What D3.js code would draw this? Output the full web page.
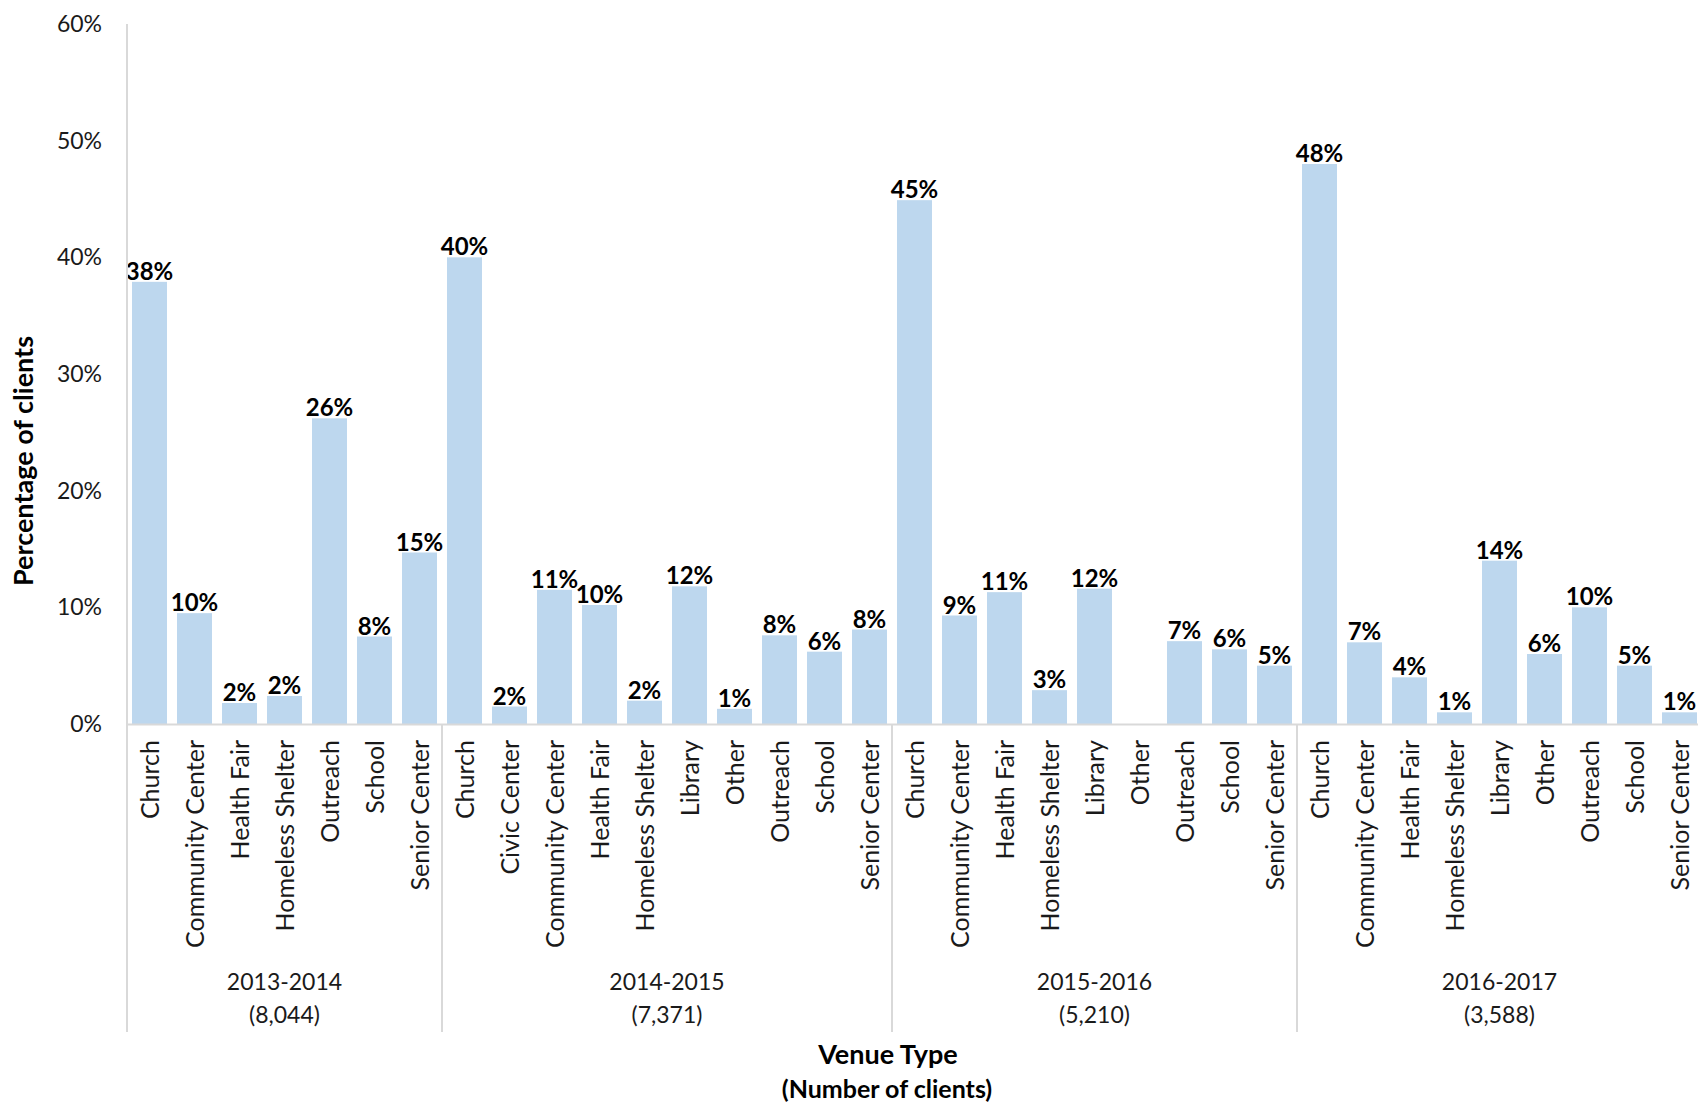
<!DOCTYPE html>
<html>
<head>
<meta charset="utf-8">
<script src="https://cdn.jsdelivr.net/npm/d3@7"></script>
<style>
  html, body { margin: 0; padding: 0; background: #fff; }
  svg { display: block; font-family: Lato, "Open Sans", sans-serif; }
</style>
</head>
<body>
<svg id="chart" width="1698" height="1104"></svg>
<script>
// ---- data ----
const groups = ["2013-2014", "2014-2015", "2015-2016", "2016-2017"];
const groupClients = ["(8,044)", "(7,371)", "(5,210)", "(3,588)"];

const venues2013 = ["Church", "Community Center", "Health Fair", "Homeless Shelter", "Outreach", "School", "Senior Center"];
const values2013 = [37.9, 9.5, 1.8, 2.4, 26.2, 7.5, 14.7];
const labels2013 = ["38%", "10%", "2%", "2%", "26%", "8%", "15%"];

const venues2014 = ["Church", "Civic Center", "Community Center", "Health Fair", "Homeless Shelter", "Library", "Other", "Outreach", "School", "Senior Center"];
const values2014 = [40.0, 1.5, 11.5, 10.2, 2.0, 11.8, 1.3, 7.6, 6.2, 8.1];
const labels2014 = ["40%", "2%", "11%", "10%", "2%", "12%", "1%", "8%", "6%", "8%"];

const venues2015 = ["Church", "Community Center", "Health Fair", "Homeless Shelter", "Library", "Other", "Outreach", "School", "Senior Center"];
const values2015 = [44.9, 9.3, 11.3, 2.9, 11.6, 0, 7.1, 6.4, 5.0];
const labels2015 = ["45%", "9%", "11%", "3%", "12%", "", "7%", "6%", "5%"];

const venues2016 = ["Church", "Community Center", "Health Fair", "Homeless Shelter", "Library", "Other", "Outreach", "School", "Senior Center"];
const values2016 = [48.0, 7.0, 4.0, 1.0, 14.0, 6.0, 10.0, 5.0, 1.0];
const labels2016 = ["48%", "7%", "4%", "1%", "14%", "6%", "10%", "5%", "1%"];

const yTicks = [0, 10, 20, 30, 40, 50, 60];

// ---- build flat table ----
const venueLists = [venues2013, venues2014, venues2015, venues2016];
const valueLists = [values2013, values2014, values2015, values2016];
const labelLists = [labels2013, labels2014, labels2015, labels2016];
const rows = [];
groups.forEach((g, gi) => {
  venueLists[gi].forEach((v, i) => {
    rows.push({ key: g + "|" + v, group: g, gi, venue: v, value: valueLists[gi][i], label: labelLists[gi][i] });
  });
});

// ---- layout ----
const svg = d3.select("#chart");
const plotLeft = 127, plotTop = 24, plotBottom = 724;
const step = 45;
const plotRight = plotLeft + rows.length * step;
const axisColor = "#d9d9d9";

const x = d3.scaleBand()
  .domain(rows.map(d => d.key))
  .range([plotLeft, plotRight])
  .paddingInner(0.222)
  .paddingOuter(0.111);

const y = d3.scaleLinear().domain([0, 60]).range([plotBottom, plotTop]);

// y axis tick labels
const yAxis = d3.axisLeft(y).tickValues(yTicks).tickFormat(d => d + "%").tickSize(0).tickPadding(25);
const yg = svg.append("g").attr("transform", `translate(${plotLeft},0)`).call(yAxis);
yg.select(".domain").remove();
yg.selectAll("text").attr("font-size", 23).attr("fill", "#1a1a1a").attr("font-family", "Lato, sans-serif");

// bars
svg.append("g").selectAll("rect").data(rows).join("rect")
  .attr("x", d => x(d.key))
  .attr("width", x.bandwidth())
  .attr("y", d => y(d.value))
  .attr("height", d => plotBottom - y(d.value))
  .attr("fill", "#BDD7EE");

// data labels
svg.append("g").selectAll("text").data(rows.filter(d => d.label)).join("text")
  .attr("x", d => x(d.key) + x.bandwidth() / 2)
  .attr("y", d => y(d.value) - 2)
  .attr("text-anchor", "middle")
  .attr("font-size", 24)
  .attr("font-weight", "bold")
  .attr("fill", "#000")
  .text(d => d.label);

// axes lines
svg.append("line").attr("x1", plotLeft).attr("x2", plotRight).attr("y1", plotBottom + 0.5).attr("y2", plotBottom + 0.5)
  .attr("stroke", axisColor).attr("stroke-width", 2);
svg.append("line").attr("x1", plotLeft).attr("x2", plotLeft).attr("y1", plotTop).attr("y2", 1032)
  .attr("stroke", axisColor).attr("stroke-width", 2);

// group separators
const groupStarts = groups.map(g => x(rows.find(r => r.group === g).key) - x.step() * x.paddingOuter());
groupStarts.slice(1).forEach(gx => {
  svg.append("line").attr("x1", gx).attr("x2", gx).attr("y1", plotBottom).attr("y2", 1032)
    .attr("stroke", axisColor).attr("stroke-width", 2);
});

// category labels
svg.append("g").selectAll("text").data(rows).join("text")
  .attr("transform", d => `translate(${x(d.key) + x.bandwidth() / 2},740) rotate(-90)`)
  .attr("text-anchor", "end")
  .attr("dy", "0.36em")
  .attr("font-size", 25)
  .attr("fill", "#1a1a1a")
  .text(d => d.venue);

// group labels
groups.forEach((g, gi) => {
  const gr = rows.filter(r => r.group === g);
  const cx = (x(gr[0].key) + x(gr[gr.length - 1].key) + x.bandwidth()) / 2;
  svg.append("text").attr("x", cx).attr("y", 982).attr("dy", "0.35em")
    .attr("text-anchor", "middle").attr("font-size", 23).attr("fill", "#1a1a1a").text(g);
  svg.append("text").attr("x", cx).attr("y", 1015).attr("dy", "0.35em")
    .attr("text-anchor", "middle").attr("font-size", 23).attr("fill", "#1a1a1a").text(groupClients[gi]);
});

// axis titles
svg.append("text")
  .attr("transform", "translate(24,461) rotate(-90)")
  .attr("text-anchor", "middle").attr("dy", "0.35em")
  .attr("font-size", 27).attr("font-weight", "bold").attr("fill", "#000")
  .text("Percentage of clients");
svg.append("text").attr("x", 888).attr("y", 1055).attr("dy", "0.35em")
  .attr("text-anchor", "middle").attr("font-size", 27).attr("font-weight", "bold").attr("fill", "#000")
  .text("Venue Type");
svg.append("text").attr("x", 887).attr("y", 1089).attr("dy", "0.35em")
  .attr("text-anchor", "middle").attr("font-size", 25).attr("font-weight", "bold").attr("fill", "#000")
  .text("(Number of clients)");
</script>
</body>
</html>
